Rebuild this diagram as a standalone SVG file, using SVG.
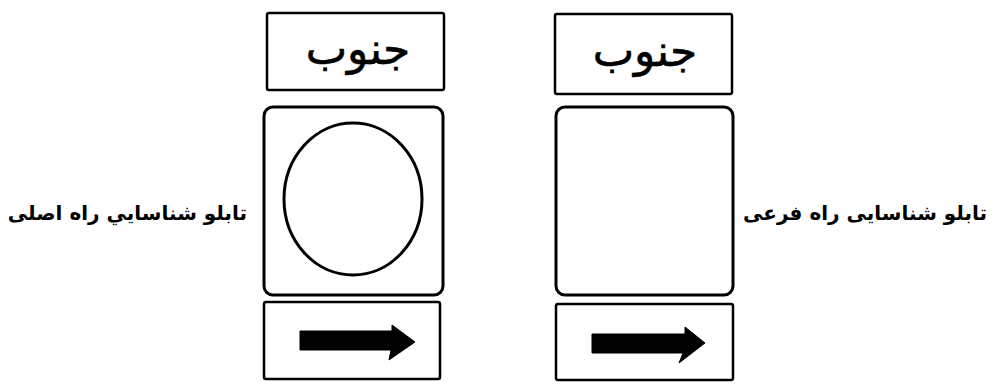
<svg xmlns="http://www.w3.org/2000/svg" width="996" height="385" viewBox="0 0 996 385">
<style>
.box{fill:#fff;stroke:#000;stroke-width:2.5}
.sign{fill:#fff;stroke:#000;stroke-width:3}
.arr{fill:#000;stroke:#000;stroke-width:1;stroke-linejoin:round}
.name{font-family:"DejaVu Sans",sans-serif;font-size:44px;fill:#000;stroke:#000;stroke-width:0.6}
.lbl{font-family:"DejaVu Sans",sans-serif;font-size:20px;font-weight:bold;fill:#000}
</style>
<rect width="996" height="385" fill="#fff"/>
<g id="main-top">
<rect class="box" x="267" y="13" width="177" height="77" rx="2"/>
<text class="name" x="358" y="64" text-anchor="middle" direction="rtl">جنوب</text>
</g>
<g id="main-sign">
<rect class="sign" x="264" y="107" width="179" height="188" rx="9"/>
<ellipse cx="353" cy="199" rx="69" ry="76" fill="none" stroke="#000" stroke-width="3"/>
</g>
<g id="main-arrow">
<rect class="box" x="264" y="302" width="176" height="77" rx="2"/>
<path class="arr" d="M300,331 L392,331 L392,325 L415,342 L389,360 L391,350 L300,350 Z"/>
</g>
<g id="sub-top">
<rect class="box" x="555" y="14" width="177" height="80" rx="2"/>
<text class="name" x="645" y="66" text-anchor="middle" direction="rtl">جنوب</text>
</g>
<g id="sub-sign">
<rect class="sign" x="556" y="107" width="177" height="188" rx="9"/>
</g>
<g id="sub-arrow">
<rect class="box" x="556" y="304" width="177" height="76" rx="2"/>
<path class="arr" d="M592,334 L685,334 L685,327 L705,343 L679,363 L683,353 L592,353 Z"/>
</g>
<g id="label-main">
<text class="lbl" x="247" y="220" text-anchor="start" direction="rtl">تابلو شناسايي راه اصلی</text>
</g>
<g id="label-sub">
<text class="lbl" x="987" y="220" text-anchor="start" direction="rtl">تابلو شناسایی راه فرعی</text>
</g>
</svg>
